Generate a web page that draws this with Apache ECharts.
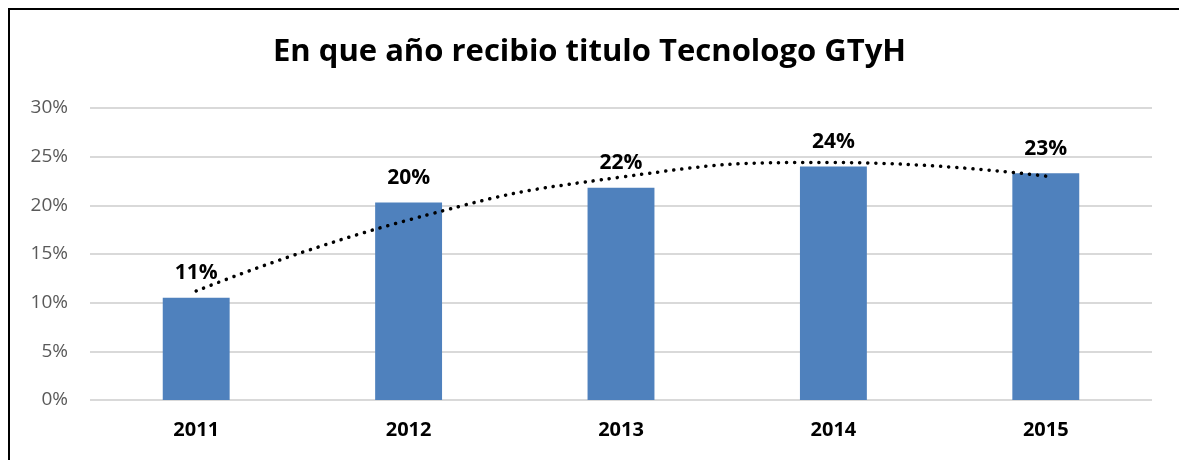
<!DOCTYPE html>
<html>
<head>
<meta charset="utf-8">
<script src="https://cdn.jsdelivr.net/npm/echarts@6/dist/echarts.min.js"></script>
<style>
  html, body { margin: 0; padding: 0; background: #fff; }
  .frame {
    position: absolute;
    left: 8px;
    top: 8px;
    width: 1180px;
    height: 460px;
    border-left: 2px solid #000;
    border-top: 2px solid #000;
  }
  #chart { position: absolute; left: 0; top: 0; width: 1179px; height: 460px; }
</style>
</head>
<body>
<div class="frame"></div>
<div id="chart"></div>
<script>
// datos
var years = ['2011', '2012', '2013', '2014', '2015']
var percents = [10.5, 20.3, 21.8, 24.0, 23.3]
var trend = [11.2, 18.5, 22.9, 24.4, 23.0]
var yTicks = [0, 5, 10, 15, 20, 25, 30]

var chartDom = document.getElementById('chart')
var myChart = echarts.init(chartDom)

var option = {
  backgroundColor: 'transparent',
  animation: false,
  title: {
    text: 'En que año recibio titulo Tecnologo GTyH',
    left: 'center',
    top: 32,
    textStyle: {
      fontFamily: 'Open Sans',
      fontWeight: 'bold',
      fontSize: 31,
      color: '#000'
    }
  },
  grid: {
    left: 90,
    right: 27,
    top: 108,
    bottom: 60
  },
  xAxis: {
    type: 'category',
    data: years,
    axisLine: { show: false },
    axisTick: { show: false },
    axisLabel: {
      margin: 20,
      fontFamily: 'Open Sans',
      fontWeight: 'bold',
      fontSize: 20,
      color: '#000'
    }
  },
  yAxis: {
    type: 'value',
    min: yTicks[0],
    max: yTicks[yTicks.length - 1],
    interval: 5,
    axisLine: { show: false },
    axisTick: { show: false },
    splitLine: { lineStyle: { color: '#d9d9d9', width: 2 } },
    axisLabel: {
      margin: 22,
      fontFamily: 'Open Sans',
      fontSize: 19,
      color: '#595959',
      formatter: function (v) { return v + '%' }
    }
  },
  series: [
    {
      name: 'Porcentaje',
      type: 'bar',
      data: percents,
      barWidth: '31.5%',
      itemStyle: { color: '#4f81bd' },
      label: {
        show: true,
        position: 'top',
        distance: 14,
        fontFamily: 'Open Sans',
        fontWeight: 'bold',
        fontSize: 21,
        color: '#000',
        formatter: function (p) { return Math.round(p.value) + '%' }
      }
    },
    {
      name: 'Tendencia',
      type: 'line',
      data: trend,
      smooth: true,
      symbol: 'none',
      z: 5,
      lineStyle: {
        color: '#000',
        width: 3.5,
        type: [0.1, 8],
        cap: 'round'
      }
    }
  ]
}

option && myChart.setOption(option)
</script>
</body>
</html>
